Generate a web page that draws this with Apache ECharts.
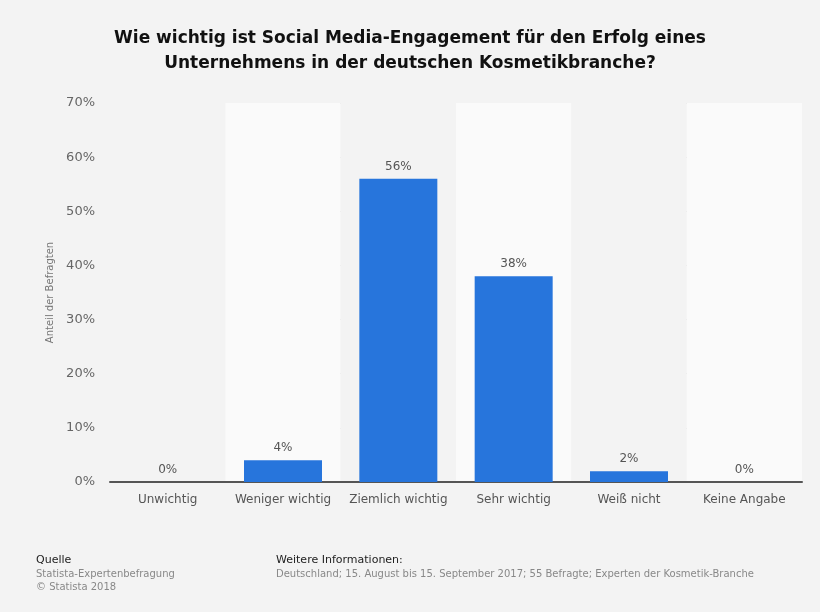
<!DOCTYPE html>
<html>
<head>
<meta charset="UTF-8">
<title>Social Media-Engagement Kosmetikbranche</title>
<script src="https://cdn.jsdelivr.net/npm/echarts@6/dist/echarts.min.js"></script>
<style>
    html, body { margin: 0; padding: 0; background: #f3f3f3; }
</style>
</head>
<body>
<div id="chart1" style="width: 820px;height: 612px;"></div>
<script type="text/javascript">
var chart1 = echarts.init(document.getElementById('chart1'));

// Daten
var categories = ['Unwichtig', 'Weniger wichtig', 'Ziemlich wichtig', 'Sehr wichtig', 'Weiß nicht', 'Keine Angabe'];
var values = [0, 4, 56, 38, 2, 0];

var fontFamily = 'DejaVu Sans, Verdana, sans-serif';

var option = {
    backgroundColor: '#f3f3f3',
    title: [
        {
            text: 'Wie wichtig ist Social Media-Engagement für den Erfolg eines\nUnternehmens in der deutschen Kosmetikbranche?',
            left: 'center',
            top: 21,
            textStyle: {
                fontFamily: fontFamily,
                fontSize: 17,
                fontWeight: 'bold',
                color: '#111',
                lineHeight: 25,
                align: 'center'
            }
        },
        {
            text: 'Quelle',
            left: 31,
            top: 550,
            textStyle: { fontFamily: fontFamily, fontSize: 11, fontWeight: 'normal', color: '#222' },
            subtext: 'Statista-Expertenbefragung\n© Statista 2018',
            itemGap: 2,
            subtextStyle: { fontFamily: fontFamily, fontSize: 10, color: '#888', lineHeight: 13 }
        },
        {
            text: 'Weitere Informationen:',
            left: 271,
            top: 550,
            textStyle: { fontFamily: fontFamily, fontSize: 11, fontWeight: 'normal', color: '#222' },
            subtext: 'Deutschland; 15. August bis 15. September 2017; 55 Befragte; Experten der Kosmetik-Branche',
            itemGap: 2,
            subtextStyle: { fontFamily: fontFamily, fontSize: 10, color: '#888', lineHeight: 13 }
        }
    ],
    grid: {
        left: 110,
        right: 18,
        top: 103,
        bottom: 130
    },
    xAxis: {
        type: 'category',
        data: categories,
        axisTick: { show: false },
        axisLine: { show: true, lineStyle: { color: '#555', width: 2 } },
        axisLabel: {
            interval: 0,
            fontFamily: fontFamily,
            fontSize: 12,
            color: '#555',
            margin: 12
        },
        splitArea: {
            show: true,
            interval: 0,
            areaStyle: { color: ['#f3f3f3', '#fafafa'] }
        }
    },
    yAxis: {
        type: 'value',
        min: 0,
        max: 70,
        interval: 10,
        name: 'Anteil der Befragten',
        nameLocation: 'middle',
        nameGap: 53,
        nameTextStyle: { fontFamily: fontFamily, fontSize: 10, color: '#777' },
        axisLine: { show: false },
        axisTick: { show: false },
        axisLabel: {
            fontFamily: fontFamily,
            fontSize: 13,
            color: '#666',
            margin: 15,
            formatter: '{value}%'
        },
        splitLine: {
            lineStyle: { color: '#cfcfcf', type: 'dotted', width: 1 }
        }
    },
    series: [
        {
            type: 'bar',
            data: values,
            barWidth: 78,
            itemStyle: { color: '#2775dc' },
            label: {
                show: true,
                position: 'top',
                distance: 6,
                formatter: '{c}%',
                fontFamily: fontFamily,
                fontSize: 12,
                color: '#555'
            }
        }
    ]
};

chart1.setOption(option);
</script>
</body>
</html>
